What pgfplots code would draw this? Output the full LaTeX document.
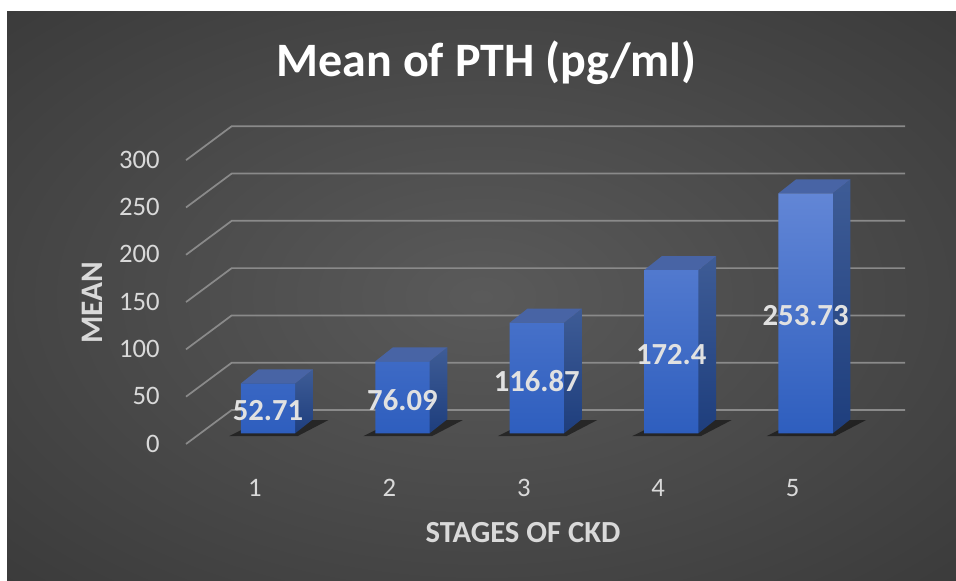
\documentclass[border=0pt]{standalone}
\usepackage{pgfplots}
\pgfplotsset{compat=1.18}
\usepackage{fontspec}
\setmainfont{Carlito}
\definecolor{bgin}{RGB}{90,90,90}
\definecolor{bgout}{RGB}{36,36,36}
\definecolor{gridc}{RGB}{138,138,138}
\definecolor{txt}{RGB}{217,217,217}
\definecolor{lbl}{RGB}{225,225,225}
\definecolor{fronttop}{RGB}{98,134,214}
\definecolor{frontbot}{RGB}{46,94,190}
\definecolor{sidetop}{RGB}{62,92,150}
\definecolor{sidebot}{RGB}{30,62,125}
\definecolor{topc}{RGB}{72,100,165}
\pgfdeclareradialshading{bgshade}{\pgfpoint{0bp}{0bp}}{color(0bp)=(bgin); color(62bp)=(bgout); color(75bp)=(bgout)}
\begin{document}
\begin{tikzpicture}
\fill[white] (0,0) rectangle (717pt,435.75pt);
\shade[shading=bgshade] (5.25pt,0) rectangle (717pt,426.75pt);
\begin{axis}[
  at={(110.28pt,93.04pt)}, anchor=south west,
  x=100.8pt, y=0.7095pt,
  xmin=0.1, xmax=5.9, ymin=-25, ymax=340,
  clip=false,
  axis line style={draw=none},
  major tick length=0pt,
  xtick={1,2,3,4,5},
  ytick={0,50,100,150,200,250,300},
  /pgf/number format/assume math mode=true,
  xticklabel style={font=\fontsize{20}{20}\selectfont, text=txt, anchor=center, yshift=-23.3pt, xshift=-9.75pt},
  yticklabel style={font=\fontsize{20}{20}\selectfont, text=txt, anchor=east, inner sep=0pt, xshift=9.7pt, yshift=-7.65pt},
]
% gridlines (front-left diagonal + back wall)
\addplot[gridc, line width=1.3pt, no marks] coordinates {(0.390,-11.3) (0.730,24.6) (5.740,24.6)};
\addplot[gridc, line width=1.3pt, no marks] coordinates {(0.390,38.7) (0.730,74.6) (5.740,74.6)};
\addplot[gridc, line width=1.3pt, no marks] coordinates {(0.390,88.7) (0.730,124.6) (5.740,124.6)};
\addplot[gridc, line width=1.3pt, no marks] coordinates {(0.390,138.7) (0.730,174.6) (5.740,174.6)};
\addplot[gridc, line width=1.3pt, no marks] coordinates {(0.390,188.7) (0.730,224.6) (5.740,224.6)};
\addplot[gridc, line width=1.3pt, no marks] coordinates {(0.390,238.7) (0.730,274.6) (5.740,274.6)};
\addplot[gridc, line width=1.3pt, no marks] coordinates {(0.390,288.7) (0.730,324.6) (5.740,324.6)};
% shadows
\addplot[draw=none, fill=black, fill opacity=0.5, no marks] coordinates {(0.71,-3) (1.22,-3) (1.45,14) (0.95,14)} -- cycle;
\addplot[draw=none, fill=black, fill opacity=0.5, no marks] coordinates {(1.71,-3) (2.22,-3) (2.45,14) (1.95,14)} -- cycle;
\addplot[draw=none, fill=black, fill opacity=0.5, no marks] coordinates {(2.71,-3) (3.22,-3) (3.45,14) (2.95,14)} -- cycle;
\addplot[draw=none, fill=black, fill opacity=0.5, no marks] coordinates {(3.71,-3) (4.22,-3) (4.45,14) (3.95,14)} -- cycle;
\addplot[draw=none, fill=black, fill opacity=0.5, no marks] coordinates {(4.71,-3) (5.22,-3) (5.45,14) (4.95,14)} -- cycle;
% side faces
\addplot[draw=none, top color=sidetop, bottom color=sidebot, no marks] coordinates {(1.202,0) (1.334,14.8) (1.334,67.51) (1.202,52.71)} -- cycle;
\addplot[draw=none, top color=sidetop, bottom color=sidebot, no marks] coordinates {(2.202,0) (2.334,14.8) (2.334,90.89) (2.202,76.09)} -- cycle;
\addplot[draw=none, top color=sidetop, bottom color=sidebot, no marks] coordinates {(3.202,0) (3.334,14.8) (3.334,131.67) (3.202,116.87)} -- cycle;
\addplot[draw=none, top color=sidetop, bottom color=sidebot, no marks] coordinates {(4.202,0) (4.334,14.8) (4.334,187.2) (4.202,172.4)} -- cycle;
\addplot[draw=none, top color=sidetop, bottom color=sidebot, no marks] coordinates {(5.202,0) (5.334,14.8) (5.334,268.53) (5.202,253.73)} -- cycle;
% top faces
\addplot[draw=none, fill=topc, no marks] coordinates {(0.798,52.71) (0.930,67.51) (1.334,67.51) (1.202,52.71)} -- cycle;
\addplot[draw=none, fill=topc, no marks] coordinates {(1.798,76.09) (1.930,90.89) (2.334,90.89) (2.202,76.09)} -- cycle;
\addplot[draw=none, fill=topc, no marks] coordinates {(2.798,116.87) (2.930,131.67) (3.334,131.67) (3.202,116.87)} -- cycle;
\addplot[draw=none, fill=topc, no marks] coordinates {(3.798,172.4) (3.930,187.2) (4.334,187.2) (4.202,172.4)} -- cycle;
\addplot[draw=none, fill=topc, no marks] coordinates {(4.798,253.73) (4.930,268.53) (5.334,268.53) (5.202,253.73)} -- cycle;
% front faces
\addplot[ybar, bar width=0.404, draw=none, top color=fronttop, bottom color=frontbot] coordinates {(1,52.71) (2,76.09) (3,116.87) (4,172.4) (5,253.73)};
% data labels
\addplot[draw=none, no marks, nodes near coords, point meta=explicit symbolic,
  nodes near coords style={anchor=center, yshift=-2pt, text=lbl, font=\bfseries\fontsize{23}{23}\selectfont}]
  coordinates {(1,26.36)[52.71] (2,38.05)[76.09] (3,58.44)[116.87] (4,86.2)[172.4] (5,126.87)[253.73]};
\end{axis}
\node[anchor=base, text=white, font=\bfseries\fontsize{36}{36}\selectfont] at (365pt,378pt) {Mean of PTH (pg/ml)};
\node[anchor=base, text=txt, font=\bfseries\fontsize{23}{23}\selectfont] at (392.25pt,28.5pt) {STAGES OF CKD};
\node[rotate=90, text=txt, font=\bfseries\fontsize{23.5}{23.5}\selectfont] at (69pt,208.5pt) {MEAN};
\end{tikzpicture}
\end{document}
